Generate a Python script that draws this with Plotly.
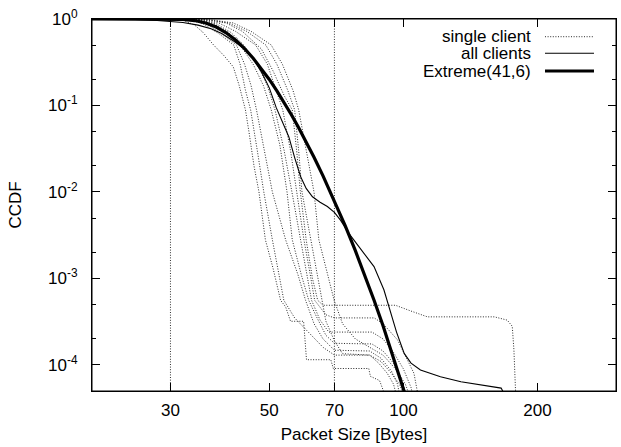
import plotly.graph_objects as go

# ---------------- data ----------------
single_client_x = [
    [20, 30, 32, 34, 35.5, 37.5, 39.5, 41.5, 42.8, 44.2, 45, 46.2, 47.4, 49, 51, 53, 54.4, 55.8, 59.7, 60.6, 68.7, 69.6, 83.6, 84.3, 88.4, 90.2, 90.6],
    [20, 30, 33, 35.5, 38.5, 41.6, 43, 44.2, 45.4, 47, 48.6, 50.8, 52.5, 53.9, 57, 62, 66, 70, 84, 88, 92, 95, 97],
    [20, 31, 33.5, 36.5, 39.5, 42.2, 44, 45.5, 46.8, 48.5, 50.8, 54.4, 58, 60.3, 63, 66, 70, 84, 89, 94, 97, 98.5],
    [20, 31.5, 34.5, 37.5, 40.5, 43, 46, 48.5, 50.5, 52.8, 54.8, 56.3, 59, 61.3, 64, 67, 70, 85, 90, 95, 99, 102],
    [20, 32, 35, 38, 41, 43.8, 47, 49.5, 51.5, 54, 56.2, 58.8, 60.8, 62.2, 65, 68, 85, 90, 95, 100, 104, 105.5],
    [20, 32, 35.5, 38.5, 42, 46.6, 49.5, 51.8, 53.6, 55.8, 57.7, 59.8, 61.8, 63.2, 67, 70, 86, 90, 97, 102, 105.6, 107.4],
    [20, 33, 36.5, 40, 43.5, 48, 51, 54, 56.3, 57.6, 58.7, 60.5, 62.5, 64.2, 66, 96, 104, 113.2, 160, 171, 175.5, 177, 178.5, 179],
    [20, 33, 37, 40.5, 44.5, 49.1, 52, 55, 57, 58.2, 59.2, 62, 64, 65.5, 67, 70, 73, 84, 89, 94, 98, 101],
    [20, 34, 37.5, 41.5, 45.5, 50.5, 53.5, 56.5, 58.2, 60.5, 63, 64.6, 67.5, 69.9, 73, 78, 84, 90, 96, 101, 104],
]
single_client_y = [
    [1, 0.995, 0.97, 0.85, 0.7, 0.5, 0.38, 0.28, 0.17, 0.089, 0.05, 0.02, 0.01, 0.0028, 0.0013, 0.00056, 0.00047, 0.00032, 0.00032, 0.000115, 0.000115, 0.000091, 0.000091, 0.000074, 0.000066, 0.00005, 0.00004],
    [1, 0.998, 0.98, 0.88, 0.68, 0.5, 0.3, 0.15, 0.089, 0.03, 0.01, 0.0028, 0.0012, 0.00056, 0.00035, 0.00022, 0.00016, 0.00013, 0.00013, 0.000105, 0.00008, 0.00006, 0.00004],
    [1, 0.998, 0.97, 0.85, 0.65, 0.5, 0.3, 0.17, 0.089, 0.035, 0.01, 0.0028, 0.0011, 0.00056, 0.0003, 0.0002, 0.000148, 0.000145, 0.00012, 0.000085, 0.00006, 0.00004],
    [1, 0.998, 0.97, 0.88, 0.7, 0.5, 0.3, 0.17, 0.089, 0.035, 0.01, 0.0028, 0.0011, 0.00056, 0.00035, 0.00022, 0.000178, 0.000175, 0.000145, 0.000105, 0.00007, 0.00004],
    [1, 0.998, 0.97, 0.88, 0.7, 0.5, 0.3, 0.17, 0.089, 0.03, 0.01, 0.0028, 0.0011, 0.00056, 0.00033, 0.00024, 0.00024, 0.0002, 0.00014, 0.00009, 0.000055, 0.00004],
    [1, 0.998, 0.97, 0.9, 0.72, 0.5, 0.3, 0.15, 0.089, 0.03, 0.01, 0.0028, 0.0011, 0.00056, 0.00038, 0.00035, 0.00035, 0.0003, 0.000195, 0.000114, 0.00008, 0.00005],
    [1, 0.998, 0.97, 0.9, 0.72, 0.45, 0.25, 0.13, 0.089, 0.03, 0.01, 0.0028, 0.001, 0.00056, 0.00049, 0.00049, 0.00042, 0.00036, 0.00036, 0.00033, 0.00028, 0.00015, 0.00005, 0.00004],
    [1, 0.998, 0.97, 0.9, 0.72, 0.5, 0.3, 0.15, 0.089, 0.03, 0.01, 0.0028, 0.0011, 0.00056, 0.00032, 0.00019, 0.000135, 0.00013, 0.00011, 0.00008, 0.00006, 0.00004],
    [1, 0.998, 0.97, 0.9, 0.72, 0.5, 0.3, 0.15, 0.089, 0.03, 0.01, 0.0028, 0.0011, 0.00056, 0.0003, 0.0002, 0.00016, 0.00013, 0.00009, 0.00006, 0.00004],
]

all_clients_x = [20, 25, 28, 30, 32, 34.6, 37, 39.1, 41.5, 44.3, 46, 48.1, 50, 51.8, 53.2, 55.3, 57, 58.8,
                 60.5, 62.5, 65, 67.5, 70, 72.3, 75.5, 80, 85.9, 90.4, 93.5, 96.5, 100.4, 104, 109.2, 115,
                 121.1, 134.6, 149.4, 160, 165.7, 167, 167.5]
all_clients_y = [1.0, 0.99, 0.96, 0.93, 0.91, 0.85, 0.77, 0.68, 0.56, 0.44, 0.35, 0.24, 0.16, 0.095, 0.068,
                 0.0436, 0.025, 0.015, 0.011, 0.0088, 0.0076, 0.0068, 0.0058, 0.0047, 0.0033, 0.0022, 0.00137,
                 0.00074, 0.0004, 0.00024, 0.000136, 0.000105, 0.0000875, 0.00008, 0.000073, 0.000064,
                 0.000059, 0.000056, 0.000054, 0.00005, 0.00004]

extreme_x = [20, 25, 28, 30, 32, 34, 36, 38, 40, 42, 44, 46, 48, 50, 52, 54, 56, 58, 60, 63, 66, 70, 74, 78,
             82, 86, 90, 94, 98, 100, 102]
extreme_y = [1.0, 1.0, 0.9998, 0.998, 0.9887, 0.9597, 0.8998, 0.8077, 0.6931, 0.5711, 0.4547, 0.3525, 0.2676,
             0.2, 0.1478, 0.1083, 0.0788, 0.0571, 0.0413, 0.0252, 0.01538, 0.00793, 0.00408, 0.002095,
             0.001076, 0.000553, 0.000284, 0.0001457, 0.0000749, 0.0000536, 0.0000384]

marker_lines_x = [30, 70]

x_tick_vals = [30, 50, 70, 100, 200]
x_tick_text = ["30", "50", "70", "100", "200"]
y_tick_vals = [1, 0.1, 0.01, 0.001, 0.0001]
y_tick_text = ["10<sup>0</sup>", "10<sup>-1</sup>", "10<sup>-2</sup>", "10<sup>-3</sup>", "10<sup>-4</sup>"]
y_minor_vals = [0.5, 0.2, 0.05, 0.02, 0.005, 0.002, 0.0005, 0.0002]

legend_labels = ["single client", "all clients", "Extreme(41,6)"]

# ---------------- figure ----------------
FONT = "Liberation Sans, Arial, Helvetica, sans-serif"
DOT = "1px,1.6px"
DOT_COLOR = "#2a2a2a"

fig = go.Figure()
for xs, ys in zip(single_client_x, single_client_y):
    fig.add_trace(go.Scatter(x=xs, y=ys, mode="lines", showlegend=False,
                             line=dict(color=DOT_COLOR, width=1, dash=DOT)))
fig.add_trace(go.Scatter(x=all_clients_x, y=all_clients_y, mode="lines", showlegend=False,
                         line=dict(color="black", width=1.1)))
fig.add_trace(go.Scatter(x=extreme_x, y=extreme_y, mode="lines", showlegend=False,
                         line=dict(color="black", width=3.2)))

for xv in marker_lines_x:
    fig.add_shape(type="line", xref="x", yref="paper", x0=xv, x1=xv, y0=0, y1=1,
                  line=dict(color="#333333", width=1, dash=DOT), layer="below")

# plot frame (box around the plotting area)
fig.add_shape(type="rect", xref="paper", yref="paper", x0=0, x1=1, y0=0, y1=1,
              line=dict(color="black", width=1), fillcolor="rgba(0,0,0,0)", layer="above")

# gnuplot-style legend: text right-aligned, sample line to its right
legend_y = [0.9524, 0.9078, 0.8602]
legend_styles = [dict(color=DOT_COLOR, width=1, dash=DOT),
                 dict(color="black", width=1.1),
                 dict(color="black", width=3.2)]
for lab, ly, st in zip(legend_labels, legend_y, legend_styles):
    fig.add_annotation(x=0.842, y=ly, xref="paper", yref="paper", text=lab, showarrow=False,
                       xanchor="right", yanchor="middle",
                       font=dict(size=17, family=FONT, color="black"))
    fig.add_shape(type="line", xref="paper", yref="paper", x0=0.8645, x1=0.958, y0=ly, y1=ly, line=st)

axis_common = dict(showline=True, linecolor="black", linewidth=1, mirror="ticks", ticks="inside",
                   tickcolor="black", tickwidth=1, showgrid=False, zeroline=False, automargin=False,
                   tickfont=dict(size=17, family=FONT, color="black"))

fig.update_xaxes(type="log", range=[1.30103, 2.47712], tickmode="array", tickvals=x_tick_vals,
                 ticktext=x_tick_text, ticklen=8, ticklabelstandoff=4,
                 title=dict(text="Packet Size [Bytes]", font=dict(size=17, family=FONT, color="black"),
                            standoff=8),
                 **axis_common)
fig.update_yaxes(type="log", range=[-4.30103, 0.0001], tickmode="array", tickvals=y_tick_vals,
                 ticktext=y_tick_text, ticklen=8, ticklabelstandoff=10,
                 minor=dict(tickmode="array", tickvals=y_minor_vals, ticks="inside", ticklen=4,
                            tickcolor="black", tickwidth=1, showgrid=False),
                 title=dict(text="CCDF", font=dict(size=17, family=FONT, color="black"), standoff=22),
                 **axis_common)

fig.update_layout(width=621, height=447, margin=dict(l=92, r=5, t=19, b=56, autoexpand=False),
                  paper_bgcolor="white", plot_bgcolor="white",
                  font=dict(family=FONT, size=17, color="black"), showlegend=False)

# remove the browser's default 8px body margin so the figure sits at the window origin
fig.write_html("out.html", config={"displayModeBar": False},
               post_script="document.body.style.margin='0px';")
